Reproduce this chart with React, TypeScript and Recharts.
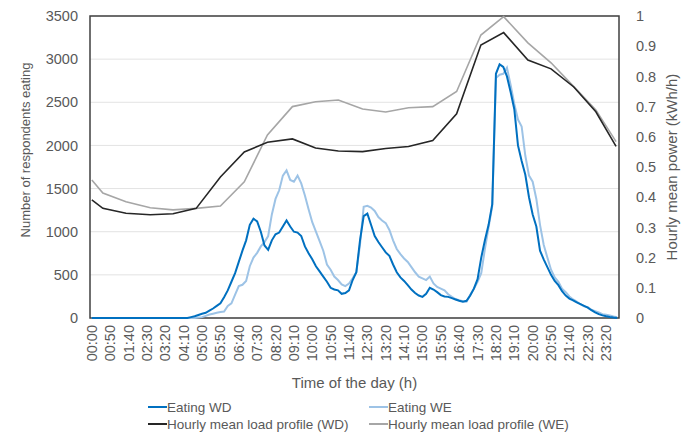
import React from 'react';
import { LineChart, Line, XAxis, YAxis, CartesianGrid, Legend, ReferenceArea } from 'recharts';

// time axis labels every 50 minutes (the data comes in 10 minute steps)
const xTickLabels = [
  '00:00', '00:50', '01:40', '02:30', '03:20', '04:10', '05:00', '05:50', '06:40', '07:30',
  '08:20', '09:10', '10:00', '10:50', '11:40', '12:30', '13:20', '14:10', '15:00', '15:50',
  '16:40', '17:30', '18:20', '19:10', '20:00', '20:50', '21:40', '22:30', '23:20',
];
const leftTicks = [0, 500, 1000, 1500, 2000, 2500, 3000, 3500];
const rightTicks = [0, 0.1, 0.2, 0.3, 0.4, 0.5, 0.6, 0.7, 0.8, 0.9, 1];

// number of respondents eating, one value per 10 minutes (144 per day)
const eatingWD = [
  0, 0, 0, 0, 0, 0, 0, 0, 0, 0, 0, 0,
  0, 0, 0, 0, 0, 0, 0, 0, 0, 0, 0, 0,
  0, 0, 0, 10, 20, 35, 50, 60, 85, 110, 140, 170,
  240, 320, 420, 520, 650, 780, 900, 1080, 1150, 1120, 1000, 840,
  790, 900, 970, 990, 1060, 1130, 1060, 1000, 990, 950, 830, 750,
  680, 600, 540, 480, 420, 350, 330, 320, 280, 290, 320, 440,
  530, 900, 1180, 1210, 1080, 950, 880, 820, 760, 720, 620, 530,
  470, 430, 380, 330, 290, 260, 245, 280, 350, 330, 300, 265,
  250, 245, 230, 215, 200, 190, 200, 260, 340, 450, 700, 900,
  1080, 1320, 2830, 2940, 2910, 2800, 2620, 2420, 2000, 1820, 1660, 1400,
  1200, 1060, 780, 680, 590, 500, 430, 380, 310, 260, 225, 205,
  180, 160, 140, 120, 90, 65, 45, 30, 20, 12, 5, 0,
];
const eatingWE = [
  0, 0, 0, 0, 0, 0, 0, 0, 0, 0, 0, 0,
  0, 0, 0, 0, 0, 0, 0, 0, 0, 0, 0, 0,
  0, 0, 0, 0, 0, 5, 10, 25, 40, 50, 60, 70,
  75, 140, 170, 270, 370, 385, 430, 600, 700, 755, 830, 880,
  950, 1200, 1380, 1480, 1650, 1710, 1600, 1580, 1650, 1560, 1420, 1260,
  1110, 1000, 890, 780, 620, 560, 480, 440, 390, 370, 400, 460,
  530, 850, 1290, 1300, 1280, 1240, 1170, 1130, 1100, 1020, 900, 800,
  740, 690, 650, 590, 530, 480, 460, 440, 480, 400, 360, 340,
  320, 275, 245, 220, 205, 195, 190, 270, 340, 420, 520, 800,
  1050, 1300, 2780, 2820, 2830, 2900, 2700, 2480, 2300, 2220, 1880, 1650,
  1580, 1380, 1080, 850, 700, 560, 470, 420, 340, 300, 250, 215,
  190, 160, 135, 125, 95, 80, 65, 45, 38, 28, 18, 10,
];

// hourly mean load profile (kWh/h), vertices in minutes of the day
const loadMinutes = [0, 30, 93, 159, 221, 284, 350, 415, 478, 546, 609, 671, 737, 800, 862, 928, 993, 1059, 1121, 1187, 1250, 1312, 1372, 1427];
const loadWD = [0.391, 0.363, 0.347, 0.342, 0.345, 0.363, 0.467, 0.55, 0.582, 0.593, 0.563, 0.553, 0.551, 0.561, 0.568, 0.588, 0.676, 0.904, 0.945, 0.854, 0.825, 0.765, 0.683, 0.568];
const loadWE = [0.457, 0.414, 0.385, 0.365, 0.358, 0.363, 0.371, 0.451, 0.606, 0.7, 0.716, 0.722, 0.692, 0.682, 0.696, 0.7, 0.75, 0.937, 0.998, 0.911, 0.845, 0.766, 0.689, 0.584];

const TEXT = '#595959';
const FONT = '"Liberation Sans", Arial, sans-serif';

const toMin = (s: string) => Number(s.slice(0, 2)) * 60 + Number(s.slice(3));
const fmtTime = (m: number) => `${String(Math.floor(m / 60)).padStart(2, '0')}:${String(m % 60).padStart(2, '0')}`;

const xTicks = xTickLabels.map(toMin);
const eatingRows = eatingWD.map((v, i) => ({ min: i * 10, wd: v, we: eatingWE[i] }));
const loadWDRows = loadMinutes.map((m, i) => ({ min: m, v: loadWD[i] }));
const loadWERows = loadMinutes.map((m, i) => ({ min: m, v: loadWE[i] }));

const legendItems = [
  { name: 'Eating WD', color: '#0070C0' },
  { name: 'Eating WE', color: '#9DC3E6' },
  { name: 'Hourly mean load profile (WD)', color: '#262626' },
  { name: 'Hourly mean load profile (WE)', color: '#A6A6A6' },
];

const TimeTick = (props: any) => {
  const { x, y, payload } = props;
  const ty = y + 7;
  return (
    <text x={x} y={ty} transform={`rotate(-90 ${x} ${ty})`} textAnchor="end" dominantBaseline="central" fill={TEXT} fontSize={14.5}>
      {fmtTime(payload.value)}
    </text>
  );
};

const VLabel = (props: any) => {
  const { viewBox, text, dx, dy, size } = props;
  const cx = viewBox.x + dx;
  const cy = viewBox.y + viewBox.height / 2 + dy;
  return (
    <text x={cx} y={cy} transform={`rotate(-90 ${cx} ${cy})`} textAnchor="middle" dominantBaseline="central" fill={TEXT} fontSize={size}>
      {text}
    </text>
  );
};

const LegendBox = () => (
  <div style={{ position: 'relative', width: 689, height: 38, fontSize: 13.5, color: TEXT, fontFamily: FONT }}>
    {legendItems.map((it, i) => {
      const left = i % 2 === 0 ? 148 : 369;
      const top = i < 2 ? 13 : 30;
      return (
        <div key={it.name} style={{ position: 'absolute', left, top: top - 8, height: 16, display: 'flex', alignItems: 'center', whiteSpace: 'nowrap' }}>
          <span style={{ display: 'inline-block', width: 19, height: 2, background: it.color }} />
          <span>{it.name}</span>
        </div>
      );
    })}
  </div>
);

const App: React.FC = () => (
  <div style={{ position: 'absolute', left: 0, top: 0, width: 689, height: 432, background: '#fff', fontFamily: FONT }}>
    <LineChart width={689} height={432} data={eatingRows} margin={{ top: 16, right: 0, bottom: 0, left: 0 }}>
      <CartesianGrid xAxisId="t" yAxisId="left" vertical={false} stroke="#e3e3e3" />
      <XAxis
        xAxisId="t"
        dataKey="min"
        type="number"
        domain={[-5, 1435]}
        ticks={xTicks}
        interval={0}
        height={76}
        tickSize={0}
        tickMargin={0}
        tickLine={false}
        axisLine={false}
        tick={<TimeTick />}
        label={{ value: 'Time of the day (h)', position: 'insideBottom', offset: 6, fill: TEXT, fontSize: 15 }}
      />
      <YAxis
        yAxisId="left"
        width={90}
        domain={[0, 3500]}
        ticks={leftTicks}
        interval={0}
        tickSize={0}
        tickMargin={12}
        tickLine={false}
        axisLine={false}
        tick={{ fill: TEXT, fontSize: 14.5 }}
        label={<VLabel text="Number of respondents eating" dx={25} dy={-17} size={13} />}
      />
      <YAxis
        yAxisId="right"
        orientation="right"
        width={70}
        domain={[0, 1]}
        ticks={rightTicks}
        interval={0}
        tickSize={0}
        tickMargin={17}
        tickLine={false}
        axisLine={false}
        tick={{ fill: TEXT, fontSize: 14.5 }}
        label={<VLabel text="Hourly mean power (kWh/h)" dx={52} dy={0} size={15} />}
      />
      <Legend verticalAlign="bottom" content={<LegendBox />} />
      <Line xAxisId="t" yAxisId="right" data={loadWERows} dataKey="v" name="Hourly mean load profile (WE)" stroke="#A6A6A6" strokeWidth={1.6} dot={false} isAnimationActive={false} />
      <Line xAxisId="t" yAxisId="right" data={loadWDRows} dataKey="v" name="Hourly mean load profile (WD)" stroke="#262626" strokeWidth={1.6} dot={false} isAnimationActive={false} />
      <Line xAxisId="t" yAxisId="left" dataKey="we" name="Eating WE" stroke="#9DC3E6" strokeWidth={2} dot={false} isAnimationActive={false} />
      <Line xAxisId="t" yAxisId="left" dataKey="wd" name="Eating WD" stroke="#0070C0" strokeWidth={2} dot={false} isAnimationActive={false} />
      <ReferenceArea xAxisId="t" yAxisId="left" x1={-5} x2={1435} y1={0} y2={3500} fill="none" stroke="#404040" strokeWidth={1.5} />
    </LineChart>
  </div>
);

export default App;
